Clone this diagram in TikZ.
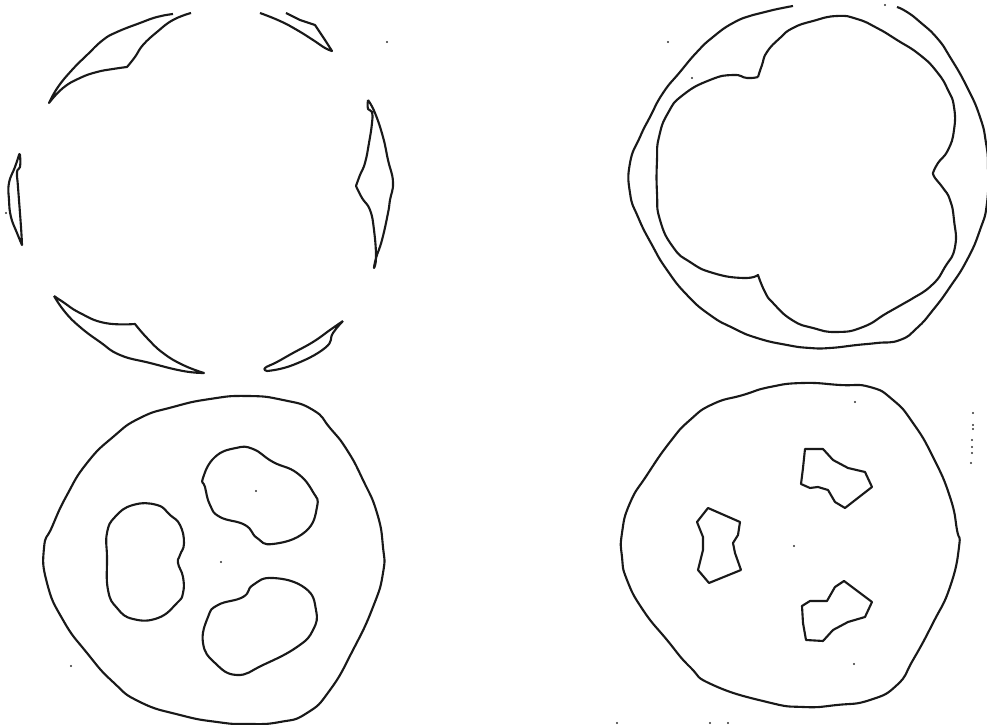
\documentclass[tikz,border=0pt]{standalone}
\usepackage{tikz}

\begin{document}
\begin{tikzpicture}[x=0.01cm, y=-0.01cm, line join=round,
    curve/.style={draw=black!90, line width=0.6pt},
    speck/.style={fill=black!80}]
  \useasboundingbox (0,0) rectangle (987,725);

  \draw[curve] plot[smooth, tension=0.8] coordinates {(173,14) (157,17) (140,23) (117,32) (103,40) (87,55) (72,70) (58,87) (49,103)}
    -- plot[smooth, tension=0.8] coordinates {(49,103) (63,88) (80,78) (97,72) (113,69) (127,67)}
    -- plot[smooth, tension=0.8] coordinates {(127,67) (135,57) (143,45) (157,32) (173,20) (191,13)};
  \draw[curve] plot[smooth, tension=0.8] coordinates {(260,13) (280,21) (297,30) (313,40) (325,48) (332,51)}
    -- (325,40) -- (315,25) -- (300,20) -- (286,13);
  \draw[curve] plot[smooth, tension=0.8] coordinates {(368,100) (375,113) (383,137) (388,160) (393,182) (390,200) (388,213) (382,240) (376,258) (374,268)}
    -- plot[smooth, tension=0.8] coordinates {(374,268) (376,257) (374,230) (370,210) (362,198) (356,186)}
    -- plot[smooth, tension=0.8] coordinates {(356,186) (360,175) (365,163) (369,143) (372,123) (372,112) (368,109) (368,100)};
  \draw[curve] plot[smooth, tension=0.8] coordinates {(19,155) (15,167) (9,183) (9,200) (11,217) (17,233) (22,245)}
    -- plot[smooth, tension=0.8] coordinates {(22,245) (21,227) (18,187) (17,172) (20,167) (20,155) (19,155)};
  \draw[curve] plot[smooth, tension=0.8] coordinates {(54,296) (63,302) (80,313) (105,323) (135,324)}
    -- plot[smooth, tension=0.8] coordinates {(135,324) (147,338) (163,353) (183,365) (204,373)}
    -- plot[smooth, tension=0.8] coordinates {(204,373) (183,371) (150,363) (120,355) (100,342) (80,327) (65,312) (54,296)};
  \draw[curve] plot[smooth, tension=0.8] coordinates {(343,321) (330,330) (313,342) (293,353) (277,362) (265,368) (267,371)}
    -- plot[smooth, tension=0.8] coordinates {(267,371) (293,365) (325,348) (333,333) (343,321)};

  \draw[curve] plot[smooth, tension=0.9] coordinates {(793,6) (773,10) (753,15) (733,23) (713,37) (697,52) (680,72) (663,93) (650,117) (640,137) (630,163) (630,193) (638,217) (652,245) (667,270) (687,295) (710,315) (733,328) (757,338) (787,345) (810,348) (830,348) (857,345) (877,343) (900,340) (917,328) (933,310) (950,287) (967,260) (980,230) (987,203) (988,167) (986,143) (980,117) (967,87) (950,57) (937,38) (920,22) (907,12) (897,7)};
  \draw[curve] plot[smooth, tension=0.9] coordinates {(758,77) (762,65) (767,52) (780,38) (793,28) (813,21) (837,16) (857,19) (877,28) (897,40) (920,55) (937,72) (948,90) (954,107) (954,130) (948,150) (938,163) (933,173)}
    -- plot[smooth, tension=0.9] coordinates {(933,173) (935,178) (943,188) (950,200) (954,220) (955,247) (945,267) (932,285) (910,300) (887,313) (863,327) (837,332) (813,328) (792,320) (773,303) (765,292) (758,275)}
    -- plot[smooth, tension=0.9] coordinates {(758,275) (743,278) (713,273) (690,262) (673,247) (660,220) (657,193) (657,160) (659,137) (668,113) (683,95) (710,80) (733,75) (747,78) (758,77)};

  \draw[curve] plot[smooth cycle, tension=0.9] coordinates {(44,548) (52,527) (67,495) (87,463) (113,437) (140,418) (173,407) (210,399) (247,396) (283,400) (313,410) (330,428) (347,450) (363,480) (377,513) (383,547) (383,573) (373,607) (353,650) (330,690) (307,713) (280,722) (247,724) (217,722) (180,715) (140,702) (113,682) (87,653) (63,620) (47,583)};
  \draw[curve] plot[smooth cycle, tension=0.8] coordinates {(133,505) (157,505) (170,515) (180,525) (184,543) (180,555) (178,563) (183,577) (183,593) (177,603) (158,618) (133,619) (117,608) (108,590) (107,557) (107,533) (115,517)};
  \draw[curve] plot[smooth cycle, tension=0.8] coordinates {(236,448) (253,449) (273,462) (297,473) (313,492) (317,507) (305,532) (273,544) (257,538) (245,525) (220,517) (210,505) (205,487) (203,478) (215,457)};
  \draw[curve] plot[smooth cycle, tension=0.8] coordinates {(273,578) (305,588) (316,610) (313,630) (297,647) (263,665) (237,675) (215,663) (203,643) (208,617) (218,605) (243,597) (253,585)};

  \draw[curve] plot[smooth cycle, tension=0.9] coordinates {(622,533) (630,503) (647,475) (670,442) (690,420) (713,404) (743,395) (770,387) (803,383) (840,385) (870,387) (893,400) (913,423) (933,457) (950,497) (957,530) (959,547) (950,587) (933,623) (913,660) (897,685) (870,700) (837,705) (803,707) (767,702) (713,685) (690,667) (667,640) (643,610) (627,580) (622,557)};
  \draw[curve] (805,449) -- (823,449) -- (833,460) -- (848,468) -- (865,472) -- (872,487) -- (845,508) -- (835,502) -- (828,490) -- (818,487) -- (810,488) -- (801,484) -- (803,468) -- cycle;
  \draw[curve] (708,508) -- (740,522) -- (738,535) -- (733,543) -- (735,553) -- (741,570) -- (709,583) -- (698,570) -- (703,550) -- (703,537) -- (697,522) -- cycle;
  \draw[curve] (844,581) -- (872,602) -- (865,617) -- (848,622) -- (833,630) -- (823,641) -- (806,640) -- (803,623) -- (802,606) -- (810,601) -- (827,601) -- (835,587) -- cycle;

  \foreach \p in {(221,562), (794,546), (855,402), (854,664), (885,5), (973,413), (973,425), (973,429), (972,440), (972,447), (972,453), (971,463), (71,666), (256,491), (387,42), (6,213), (668,42), (692,78), (617,723), (710,723), (728,723)}
    \fill[speck] \p circle[radius=0.012cm];
\end{tikzpicture}
\end{document}
